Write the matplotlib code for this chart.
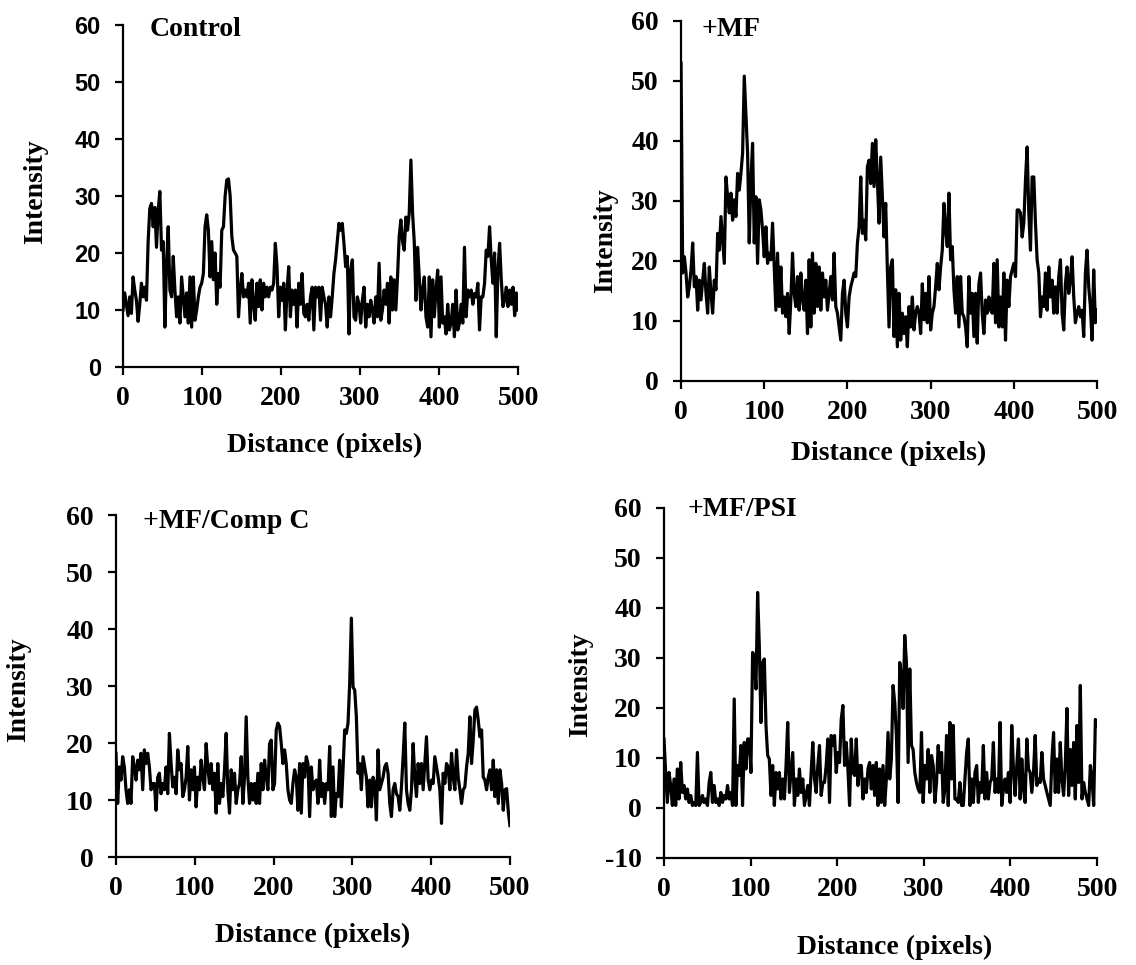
import numpy as np
import matplotlib
matplotlib.use('Agg')
import matplotlib.pyplot as plt

# intensity profiles (x = 0..500 pixels)
control = [10, 13, 11, 9, 12.3, 9.4, 15.8, 13.5, 11.7, 8, 11, 14.7, 12.3, 14, 11.7, 22, 27.8, 28.7, 24.6, 28,
           21, 27.5, 30.8, 20.5, 22, 7, 18, 24.6, 13.5, 12.3, 19.4, 13.5, 8.8, 12.3, 7.7, 15.8, 12.3, 8.8, 13, 7.7,
           15.8, 7, 15.8, 8.2, 10, 12.3, 14, 14.7, 16.4, 24.6, 26.7, 24, 15.8, 22, 15.3, 20, 11, 16.4, 14, 24,
           24.6, 30, 32.8, 33, 30, 22.9, 20.5, 20, 19.4, 8.8, 13.5, 16.4, 12.3, 13.5, 12.3, 14.7, 7.7, 15.3, 11, 8.2,
           14.7, 10.6, 15.3, 10, 14.7, 12.3, 14, 12.3, 14, 13.5, 14.7, 21.7, 17.6, 8.8, 14, 11.7, 14.7, 6.5, 13.5, 17.6,
           8.8, 13.5, 11, 13.5, 7, 14.7, 11, 16.4, 9.4,
           8.8, 11, 8.2, 12.3, 14, 6.5, 14, 12.3, 14, 8.2, 14, 12.3, 11, 7, 12.3, 8.8, 12.3, 16.4, 18.8, 22,
           25.2, 24, 25.2, 21.7, 17.6, 19.4, 5.8, 17, 18.8, 8.8, 8.2, 12.3, 11, 7.7, 11.7, 14, 7, 11, 8.8, 11.7,
           10, 7.7, 12.3, 8.8, 18.2, 8.2, 10, 13.5, 11, 14.7, 7.7, 15.8, 10, 15.3, 10, 15.8, 22.9, 25.8, 22, 20.5,
           26.3, 24, 27, 36.3, 27, 22, 11.7, 21, 15.8, 10, 13.5, 15.8, 8.8, 7, 15.8, 5.3, 15.3, 8.8, 13.5, 17,
           7, 15.8, 7.7, 8.8, 5.8, 11, 6.5, 7.7, 11, 5.3, 13.5, 6.5, 7.7, 11, 7.7, 21, 8.8, 13.5, 12.3, 13.5,
           11, 12.9, 12.3, 14.7, 6.5, 12.3, 12.3, 14.7, 20.5, 19.4, 24.6, 18.8, 14.7, 20, 5.3, 17, 21.7, 15.3, 10.6, 11.7,
           14, 10.6, 13.5, 11, 14, 9, 13, 10]

mf = [53, 18, 20.7, 18, 14, 15.7, 18.5, 23, 15.7, 17.4, 11.8, 16.8, 13.5, 16.8, 19.6, 14.6, 11.3, 19, 14.6, 11.3,
      16.8, 15.2, 24.6, 21.8, 27.4, 23.5, 19.6, 34, 30.7, 28, 31.3, 26.8, 30.2, 27.4, 34.6, 31.8, 34.6, 38, 50.8, 44.6,
      38, 23, 33.5, 39.6, 23, 30.7, 19.6, 30.2, 28.5, 25.2, 20.7, 25.7, 19.6, 21.3, 20.2, 26.3, 19, 11.8, 21.3, 12.4,
      19, 11.3, 14, 10.7, 14.6, 7.9, 13.5, 21.3, 14.6, 12.4, 17.4, 11.8, 18, 13.5, 11.8, 16.8, 7.9, 20.2, 9, 21.3,
      11.3, 19.6, 12.4, 19, 11.8, 18, 14, 16.8, 11.8, 14.6, 17.4, 13.5, 21.3, 12.4, 11.3, 9, 6.8, 14.6, 16.8, 11.3,
      9, 14, 15.7, 16.8, 18, 17.4, 23, 25.7, 34, 24.6, 26.8, 23.5, 35.7, 36.8, 32.9, 39.6, 32.4, 40.2, 33.5, 26.3,
      37.3, 30.7, 24, 29.6, 18.5, 9, 19, 20.2, 7.4, 15.2, 5.7, 14.6, 6.8, 11.3, 7.9, 10.7, 5.7, 12.4, 9, 14,
      8.5, 11.3, 12.4, 11.3, 7.9, 16.2, 10.2, 14.6, 9.7, 17.4, 8.5, 11.3, 12.4, 15.7, 19.6, 15.2, 19, 21.8, 29.6, 25.2,
      22.4, 31.3, 20.2, 22.4, 15.2, 11.3, 17.4, 9, 17.4, 11.3, 10.7, 9, 5.7, 17.4, 11.3, 14.6, 7.4, 14.6, 6.3, 16.2,
      18, 11.3, 7.9, 13.5, 11.3, 14, 11.8, 11.3, 19.6, 9.7, 20.2, 9, 14, 9, 18, 6.8, 16.8, 12.4, 17.4, 18.5,
      19.6, 17.4, 28.5, 28.5, 28, 24, 26.3, 33.5, 39, 28, 21.8, 34, 34, 26.3, 20.2, 18, 10.7, 14, 12.4, 18,
      11.8, 19, 14, 16.8, 11.3, 15.7, 11.3, 17.4, 20.2, 11.3, 8.5, 16.2, 19, 14.6, 16.8, 20.7, 14, 9.7, 11.3, 12.4,
      10.7, 11.8, 7.4, 18, 21.8, 15.7, 12.4, 6.8, 18.5, 9.7, 11.8]

mf_compc = [18.2, 9.4, 15.8, 13.5, 17.6, 15.8, 11.8, 9.4, 11.8, 9.4, 17.6, 15.8, 13.5, 17, 15.3, 18.2, 11.8, 18.8, 16.4, 18.2,
            15.8, 11.8, 12.9, 12.9, 8.2, 14, 14.7, 11.1, 12.9, 11.8, 15.8, 11.1, 21.7, 16.4, 12.3, 14, 11.1, 18.8, 15.3, 16.4,
            10.6, 11.8, 14, 19.4, 10, 15.3, 11.8, 15.8, 8.8, 14, 11.8, 17, 14, 11.8, 19.9, 15.8, 12.9, 16.4, 11.8, 14.7,
            7.7, 16.4, 9.4, 12.9, 10.6, 15.3, 21.7, 11.8, 7.7, 15.3, 11.8, 14.7, 9.4, 11.8, 12.9, 17.6, 9.4, 14, 24.6, 14,
            9.4, 12.9, 10, 12.9, 9.4, 14.7, 9.4, 16.4, 11.8, 17, 14, 11.8, 19.9, 20.5, 11.8, 12.9, 22.3, 23.5, 22.9, 19.9,
            16.4, 18.8, 16.4, 11.8, 10, 9.4, 12.9, 15.3, 14, 8.2,
            16.4, 7.7, 16.4, 14, 17.6, 16.4, 7.1, 15.8, 11.8, 12.9, 13.5, 9.4, 17, 10.6, 12.9, 9.4, 12.9, 11.8, 19.4, 7.1,
            15.8, 7.1, 11.1, 10.6, 17, 8.8, 15.3, 22.3, 21.7, 23.5, 30.5, 41.9, 29.8, 29.3, 24.6, 14.7, 16.4, 11.8, 17.6, 15.8,
            14, 8.8, 13.5, 8.8, 14, 12.9, 6.5, 18.8, 11.8, 12.9, 14, 15.8, 16.4, 14.7, 9.4, 7.1, 11.8, 12.9, 11.1, 10.6,
            8.2, 12.3, 17.6, 23.5, 11.8, 9.4, 8.2, 11.8, 19.9, 14, 10.6, 16.4, 12.9, 16.4, 11.8, 16.4, 21.1, 13.5, 11.8, 13.5,
            12.9, 17.6, 15.8, 14, 11.8, 5.9, 14.7, 12.9, 16.4, 15.8, 11.8, 18.2, 14, 11.8, 18.8, 14, 11.8, 9.4, 11.8, 12.3,
            15.8, 18.2, 24.6, 16.4, 20.5, 25.8, 26.3, 24, 21.1, 22.3, 14, 13.5, 11.8, 14, 15.3, 11.8, 17, 10.6, 15.3, 9.4,
            15.3, 12.9, 8.2, 11.8, 12, 8, 5.5]

mf_psi = [13.8, 7.1, 1.1, 7.1, 4.5, 0.5, 5.8, 0.5, 7.8, 1.8, 9.1, 3.1, 4.5, 1.8, 3.8, 1.1, 2.5, 0.5, 1.1, 0.5,
          11.1, 0.5, 1.1, 2.5, 1.1, 1.8, 0.5, 5.1, 7.1, 1.1, 4.5, 1.1, 1.8, 0.5, 3.1, 1.1, 2.5, 1.8, 4.5, 1.8,
          3.1, 0.5, 21.8, 0.5, 8.5, 6.5, 12.5, 0.5, 13.1, 7.8, 13.8, 13.8, 7.1, 31.1, 30.5, 23.8, 43.1, 32.5, 17.1, 29.1,
          29.8, 16.5, 10.5, 9.8, 2.5, 8.5, 0.5, 7.1, 3.8, 7.1, 1.8, 5.8, 1.8, 8.5, 17.1, 3.1, 7.1, 11.1, 0.5, 5.8,
          2.5, 7.8, 3.1, 5.8, 0.5, 2.5, 4.5, 0.5, 7.1, 13.1, 5.8, 3.1, 8.5, 12.5, 2.5, 5.1, 5.1, 8.5, 13.8, 1.1,
          14.5, 12.5, 14.5, 7.1, 11.1, 9.1, 17.7, 20.5, 8.5, 13.1, 7.8, 0.5, 13.8, 7.1, 6.5, 13.8, 4.5, 8.5, 8.5, 1.8,
          5.8, 3.1, 7.8,
          9.1, 3.8, 8.5, 2.5, 9.1, 0.5, 7.8, 1.1, 8.5, 0.5, 5.8, 15.1, 5.8, 9.8, 24.5, 21.1, 14.5, 1.1, 29.1, 26.5,
          19.9, 34.5, 29.1, 9.1, 27.8, 12.5, 11.7, 7.1, 5.1, 3.8, 3.1, 15.1, 1.1, 8.5, 5.8, 11.7, 3.1, 10.5, 8.5, 1.1,
          5.1, 12.5, 7.1, 11.1, 1.1, 3.8, 14.5, 0.5, 17.1, 5.8, 16.5, 1.8, 1.8, 1.1, 5.1, 0.5, 0.5, 5.8, 11.1, 13.8,
          0.5, 5.8, 1.1, 7.1, 8.5, 1.1, 5.1, 3.1, 12.5, 1.8, 7.1, 1.8, 5.1, 5.8, 13.1, 3.1, 5.8, 3.1, 17.1, 0.5,
          3.8, 5.8, 3.1, 7.1, 1.1, 16.5, 7.8, 2.5, 8.5, 13.8, 1.8, 9.8, 3.8, 1.1, 13.8, 7.8, 7.1, 3.1, 7.1, 14.5,
          4.5, 5.8, 5.1, 11.1, 5.8, 4.5, 3.1, 1.8, 0.5, 9.8, 15.1, 3.1, 9.8, 3.1, 13.1, 5.8, 2.5, 8.5, 19.9, 2.5,
          11.7, 4.5, 13.1, 1.8, 16.5, 5.1, 24.5, 1.8, 5.1, 3.1, 1.8, 0.5, 8.5, 5.8, 0.5, 17.7, 16.5]

xticks = [0, 100, 200, 300, 400, 500]

plt.rcParams['font.family'] = ['Liberation Serif']
plt.rcParams['font.weight'] = 'bold'
plt.rcParams['axes.unicode_minus'] = False

fig = plt.figure(figsize=(11.36, 9.65), dpi=100)

# rect, data, title, ylim, yticks, title pos, ylabel pos, xlabel pos
panels = [
    ([0.1083, 0.6197, 0.3477, 0.3544], control, 'Control', (0, 60), range(0, 61, 10),
     (0.068, 1.023), (-0.19, 0.512), (0.511, -0.193)),
    ([0.5995, 0.6052, 0.3662, 0.3731], mf, '+MF', (0, 60), range(0, 61, 10),
     (0.048, 1.011), (-0.151, 0.39), (0.498, -0.167)),
    ([0.1021, 0.1119, 0.3468, 0.3544], mf_compc, '+MF/Comp C', (0, 60), range(0, 61, 10),
     (0.069, 1.018), (-0.216, 0.488), (0.5, -0.193)),
    ([0.5845, 0.1109, 0.3812, 0.3627], mf_psi, '+MF/PSI', (-10, 60), range(-10, 61, 10),
     (0.055, 1.031), (-0.164, 0.494), (0.533, -0.22)),
]

for i, (rect, y, title, ylim, yt, tpos, ylpos, xlpos) in enumerate(panels):
    ax = fig.add_axes(rect)
    x = np.linspace(0, 500, len(y))
    ax.plot(x, y, color='black', linewidth=2.3)
    ax.set_xlim(0, 500)
    ax.set_ylim(*ylim)
    ax.set_xticks(xticks)
    ax.set_yticks(list(yt))
    for s in ['top', 'right']:
        ax.spines[s].set_visible(False)
    for s in ['left', 'bottom']:
        ax.spines[s].set_linewidth(1.6)
    ax.tick_params(direction='out', length=6, width=1.6, labelsize=20)
    ax.tick_params(axis='x', pad=8)
    ax.tick_params(axis='y', pad=10)
    for lab in ax.get_xticklabels() + ax.get_yticklabels():
        lab.set_fontweight('bold')
    if i == 0:
        for lab in ax.get_yticklabels():
            lab.set_family('Liberation Sans')
            lab.set_fontsize(17)
    ax.text(tpos[0], tpos[1], title, transform=ax.transAxes, fontsize=20,
            fontweight='bold', ha='left', va='top')
    ax.set_ylabel('Intensity', fontsize=20, fontweight='bold')
    ax.yaxis.set_label_coords(*ylpos)
    ax.set_xlabel('Distance (pixels)', fontsize=20, fontweight='bold')
    ax.xaxis.set_label_coords(*xlpos)

plt.savefig('out.png', dpi=100)
